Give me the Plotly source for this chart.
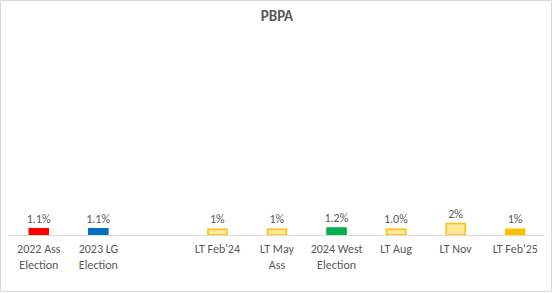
import plotly.graph_objects as go

categories = ["2022 Ass<br>Election", "2023 LG<br>Election", " ", "LT Feb'24", "LT May<br>Ass",
              "2024 West<br>Election", "LT Aug", "LT Nov", "LT Feb'25"]
values = [1.1, 1.1, None, 1.0, 1.0, 1.2, 1.0, 2.0, 1.0]
labels = ["1.1%", "1.1%", "", "1%", "1%", "1.2%", "1.0%", "2%", "1%"]
fill_colors = ["#FF0000", "#0070C0", "#FFFFFF", "#FFE699", "#FFE699", "#00B050", "#FFE699", "#FFE699", "#FFC000"]
line_colors = ["#FF0000", "#0070C0", "#FFFFFF", "#FFC000", "#FFC000", "#00B050", "#FFC000", "#FFC000", "#FFC000"]

FONT = "Carlito, 'Liberation Sans Narrow', Lato, Arial, sans-serif"

fig = go.Figure(go.Bar(
    x=categories, y=values, text=labels, textposition="outside", constraintext="none",
    textfont=dict(family=FONT, size=12, color="#595959"),
    marker=dict(color=fill_colors, line=dict(color=line_colors, width=1.5)),
    width=0.32, cliponaxis=False,
))

fig.update_layout(
    width=553, height=293,
    margin=dict(l=9, r=8, t=40, b=58),
    paper_bgcolor="white", plot_bgcolor="white",
    title=dict(text="<b>PBPA</b>", x=0.5, xref="paper", y=0.945, yanchor="middle",
               font=dict(family=FONT, size=15, color="#595959")),
    showlegend=False,
    xaxis=dict(type="category", showgrid=False, showline=True, linecolor="#D9D9D9", linewidth=1,
               ticks="", ticklabelstandoff=3,
               tickfont=dict(family=FONT, size=12, color="#595959"), fixedrange=True),
    yaxis=dict(range=[0, 34], visible=False, showgrid=False, fixedrange=True),
    shapes=[dict(type="rect", xref="paper", yref="paper",
                 x0=(0.5 - 9) / 536, x1=(551.5 - 9) / 536,
                 y0=(235 - 291.5) / 195, y1=(235 - 0.5) / 195,
                 line=dict(color="#D9D9D9", width=1))],
)

fig.write_html("out.html")
